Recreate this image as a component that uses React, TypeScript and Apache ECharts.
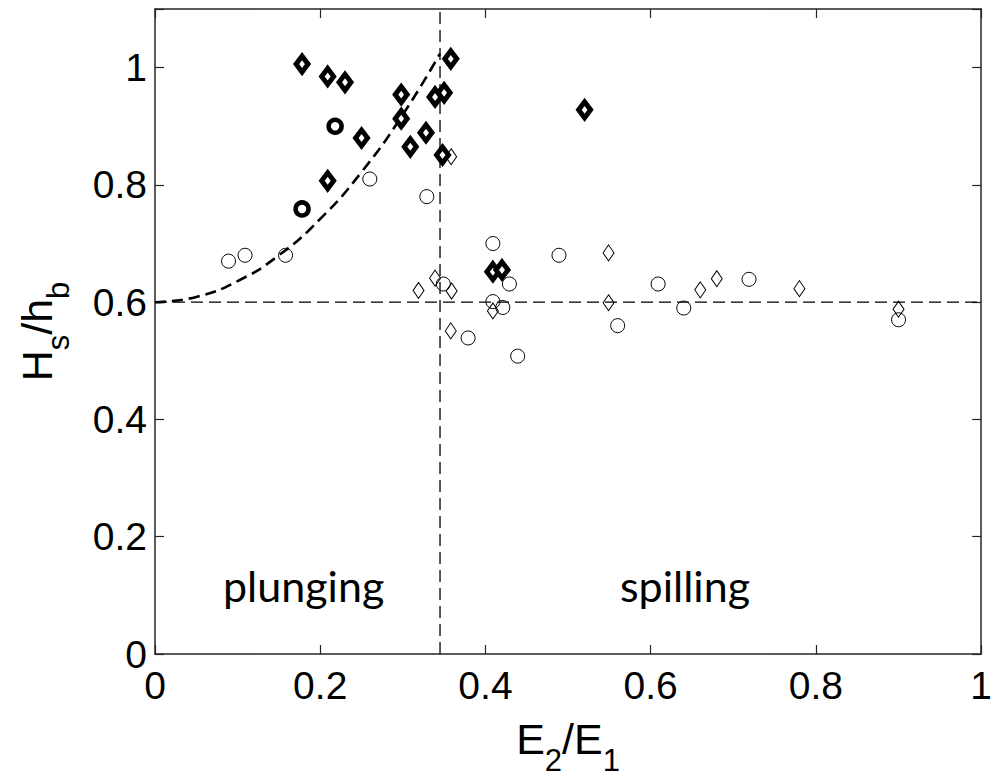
import React, { useEffect, useRef } from "react";
import * as echarts from "echarts";

// Bold (thick-outline) diamonds
const boldDiamonds: number[][] = [
  [0.178, 1.006], [0.209, 0.985], [0.23, 0.975], [0.298, 0.954], [0.298, 0.913],
  [0.25, 0.88], [0.328, 0.889], [0.309, 0.865], [0.339, 0.95], [0.35, 0.957],
  [0.358, 1.015], [0.348, 0.851], [0.209, 0.807], [0.409, 0.652], [0.42, 0.655],
  [0.52, 0.928],
];
// Bold (thick-outline) circles
const boldCircles: number[][] = [
  [0.178, 0.759], [0.218, 0.9],
];
// Thin open circles
const thinCircles: number[][] = [
  [0.089, 0.67], [0.109, 0.68], [0.158, 0.68], [0.26, 0.81], [0.329, 0.78],
  [0.409, 0.7], [0.489, 0.68], [0.349, 0.631], [0.429, 0.631], [0.409, 0.601],
  [0.421, 0.591], [0.56, 0.56], [0.379, 0.539], [0.439, 0.508], [0.609, 0.631],
  [0.64, 0.59], [0.719, 0.639], [0.9, 0.57],
];
// Thin open diamonds
const thinDiamonds: number[][] = [
  [0.3585, 0.848], [0.549, 0.684], [0.339, 0.641], [0.319, 0.62], [0.359, 0.619],
  [0.409, 0.585], [0.549, 0.599], [0.358, 0.551], [0.66, 0.621], [0.68, 0.64],
  [0.78, 0.623], [0.9, 0.588],
];
// Dashed threshold curve
const curve: number[][] = [
  [0, 0.6], [0.05, 0.609], [0.1, 0.636], [0.15, 0.68], [0.2, 0.742],
  [0.25, 0.822], [0.3, 0.92], [0.345, 1.024],
];
const hLine: number[][] = [[0, 0.6], [1, 0.6]];
const vLine: number[][] = [[0.345, 0], [0.345, 1.1]];
const regionLabels = ["plunging", "spilling"];

const AX = "#262626";
const FONT = "'Liberation Sans', Arial, sans-serif";

export default function App() {
  const ref = useRef<HTMLDivElement>(null);
  useEffect(() => {
    if (!ref.current) return;
    const chart = echarts.init(ref.current, undefined, { renderer: "svg" });
    const grid = { left: 155, right: 5, top: 9, bottom: 123 };
    const tickLabel = { color: "#000", fontFamily: FONT, fontSize: 39 };
    const nameRich = {
      m: { fontFamily: FONT, fontSize: 43, color: "#000", verticalAlign: "top", lineHeight: 44 },
      s: { fontFamily: FONT, fontSize: 31, color: "#000", verticalAlign: "bottom", lineHeight: 59 },
    };
    const axisLine = { show: true, onZero: false, lineStyle: { color: AX, width: 1.5 } };
    const axisTick = { show: true, inside: true, length: 9, lineStyle: { color: AX, width: 1.2 } };
    const hideLabelAbove1 = (v: number) => (v > 1.05 ? "" : String(+v.toFixed(2)));
    const dash = (w: number, d: number[]) => ({ color: "#000", width: w, type: d });
    const openStyle = { color: "rgba(255,255,255,0)", borderColor: "#000", borderWidth: 1, opacity: 1 };
    const boldStyle = { color: "#fff", borderColor: "#000", borderWidth: 5, opacity: 1 };
    const regionFont = { fontFamily: "Lato, 'Open Sans', sans-serif", fontSize: 43, fill: "#000" };

    chart.setOption({
      animation: false,
      backgroundColor: "#fff",
      grid,
      xAxis: [
        {
          type: "value", min: 0, max: 1, interval: 0.2, position: "bottom",
          axisLine, axisTick, splitLine: { show: false },
          axisLabel: { ...tickLabel, margin: 12, formatter: hideLabelAbove1 },
          name: "{m|E}{s|2}{m|/E}{s|1}", nameLocation: "middle", nameGap: 63,
          nameTextStyle: { rich: nameRich },
        },
        {
          type: "value", min: 0, max: 1, interval: 0.2, position: "top",
          axisLine, axisTick, splitLine: { show: false }, axisLabel: { show: false },
        },
      ],
      yAxis: [
        {
          type: "value", min: 0, max: 1.1, interval: 0.2, position: "left",
          axisLine, axisTick, splitLine: { show: false },
          axisLabel: { ...tickLabel, margin: 8, formatter: hideLabelAbove1 },
          name: "{m|H}{s|s}{m|/h}{s|b}", nameLocation: "middle", nameGap: 81,
          nameTextStyle: { rich: nameRich },
        },
        {
          type: "value", min: 0, max: 1.1, interval: 0.2, position: "right",
          axisLine, axisTick, splitLine: { show: false }, axisLabel: { show: false },
        },
      ],
      series: [
        { type: "line", data: hLine, symbol: "none", lineStyle: dash(1.3, [12, 6]), z: 1 },
        { type: "line", data: vLine, symbol: "none", lineStyle: dash(1.3, [12, 6]), z: 1 },
        { type: "line", data: curve, smooth: true, symbol: "none", lineStyle: dash(2.6, [11, 6]), z: 1 },
        { type: "scatter", data: thinCircles, symbol: "circle", symbolSize: 14, itemStyle: openStyle, z: 2 },
        { type: "scatter", data: thinDiamonds, symbol: "diamond", symbolSize: [11, 16], itemStyle: openStyle, z: 2 },
        { type: "scatter", data: boldCircles, symbol: "circle", symbolSize: 13, itemStyle: { ...boldStyle, borderWidth: 4.5 }, z: 3 },
        { type: "scatter", data: boldDiamonds, symbol: "diamond", symbolSize: [12, 16], itemStyle: boldStyle, z: 3 },
      ],
      graphic: [
        { type: "text", left: 223, top: 564, style: { text: regionLabels[0], ...regionFont } },
        { type: "text", left: 620, top: 564, style: { text: regionLabels[1], ...regionFont } },
      ],
    });
    return () => chart.dispose();
  }, []);
  return (
    <div
      ref={ref}
      style={{ position: "fixed", left: 0, top: 0, width: 995, height: 781, background: "#fff" }}
    />
  );
}
